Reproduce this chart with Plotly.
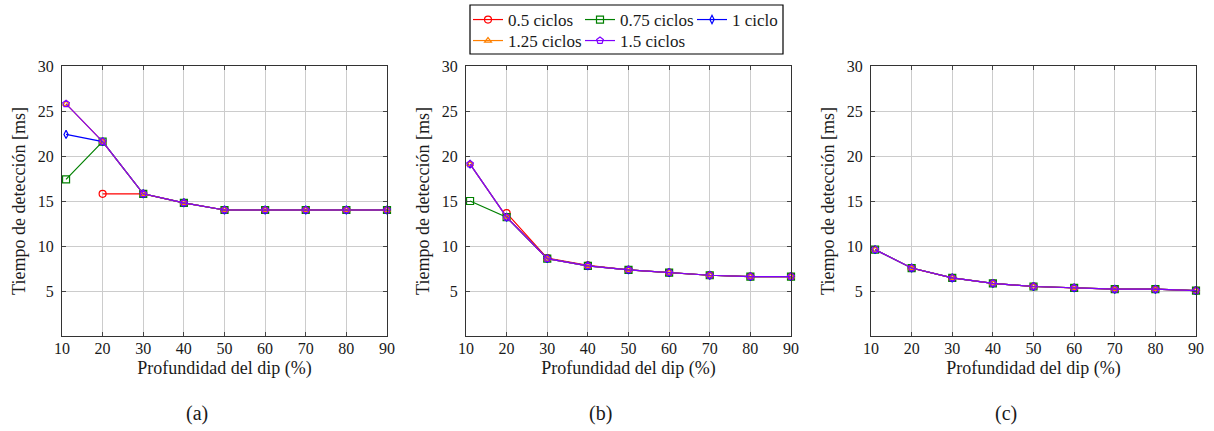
import plotly.graph_objects as go

W, H = 1214, 431

# ---------------- data ----------------
dip = [11, 20, 30, 40, 50, 60, 70, 80, 90]
series_names = ["0.5 ciclos", "0.75 ciclos", "1 ciclo", "1.25 ciclos", "1.5 ciclos"]

# panel (a)
a_05 = [None, 15.8, 15.8, 14.8, 14.0, 14.0, 14.0, 14.0, 14.0]
a_075 = [17.4, 21.6, 15.8, 14.8, 14.0, 14.0, 14.0, 14.0, 14.0]
a_1 = [22.4, 21.6, 15.8, 14.8, 14.0, 14.0, 14.0, 14.0, 14.0]
a_125 = [25.8, 21.6, 15.8, 14.8, 14.0, 14.0, 14.0, 14.0, 14.0]
a_15 = [25.8, 21.6, 15.8, 14.8, 14.0, 14.0, 14.0, 14.0, 14.0]

# panel (b)
b_05 = [None, 13.65, 8.65, 7.85, 7.35, 7.05, 6.75, 6.6, 6.6]
b_075 = [15.0, 13.2, 8.6, 7.8, 7.35, 7.05, 6.75, 6.6, 6.6]
b_1 = [19.1, 13.2, 8.6, 7.8, 7.35, 7.05, 6.75, 6.6, 6.6]
b_125 = [19.1, 13.2, 8.6, 7.8, 7.35, 7.05, 6.75, 6.6, 6.6]
b_15 = [19.1, 13.2, 8.6, 7.8, 7.35, 7.05, 6.75, 6.6, 6.6]

# panel (c)
c_05 = [None, 7.55, 6.45, 5.85, 5.5, 5.35, 5.2, 5.2, 5.05]
c_075 = [9.6, 7.55, 6.45, 5.85, 5.5, 5.35, 5.2, 5.2, 5.05]
c_1 = [9.6, 7.55, 6.45, 5.85, 5.5, 5.35, 5.2, 5.2, 5.05]
c_125 = [9.6, 7.55, 6.45, 5.85, 5.5, 5.35, 5.2, 5.2, 5.05]
c_15 = [9.6, 7.55, 6.45, 5.85, 5.5, 5.35, 5.2, 5.2, 5.05]

x_ticks = [10, 20, 30, 40, 50, 60, 70, 80, 90]
y_ticks = [5, 10, 15, 20, 25, 30]
x_title = "Profundidad del dip (%)"
y_title = "Tiempo de detección [ms]"
sub_labels = ["(a)", "(b)", "(c)"]

# ---------------- styles ----------------
FONT = "'Liberation Serif', 'DejaVu Serif', serif"
TXT = "#1a1a1a"
colors = ["#ff0000", "#008000", "#0000ff", "#ff8000", "#8000ff"]
symbols = ["circle-open", "square-open", "diamond-tall-open", "triangle-up-open", "pentagon-open"]
msizes = [7, 7, 6, 6, 7]
legend_of = ["legend", "legend", "legend", "legend2", "legend2"]

panels = [
    [a_05, a_075, a_1, a_125, a_15],
    [b_05, b_075, b_1, b_125, b_15],
    [c_05, c_075, c_1, c_125, c_15],
]

# pixel boxes of the plot areas
px_x = [(62, 387), (466, 791), (871, 1196)]
px_y = (66, 336)

fig = go.Figure()

for p, data in enumerate(panels):
    ax = "" if p == 0 else str(p + 1)
    for k, ys in enumerate(data):
        fig.add_trace(go.Scatter(
            x=dip, y=ys, name=series_names[k],
            mode="lines+markers",
            line=dict(color=colors[k], width=1.2),
            marker=dict(symbol=symbols[k], size=msizes[k], color=colors[k],
                        line=dict(width=1.2, color=colors[k])),
            cliponaxis=False,
            showlegend=(p == 0),
            legend=legend_of[k],
            xaxis="x" + ax, yaxis="y" + ax,
        ))

axis_common = dict(
    showline=True, linecolor="#333333", linewidth=1.3, mirror="allticks",
    ticks="inside", ticklen=4, tickwidth=1, tickcolor="#444444",
    showgrid=True, gridcolor="#cccccc", gridwidth=1,
    zeroline=False,
    tickfont=dict(family=FONT, size=16, color=TXT),
)

layout_axes = {}
for p in range(3):
    ax = "" if p == 0 else str(p + 1)
    x0, x1 = px_x[p]
    layout_axes["xaxis" + ax] = dict(
        axis_common,
        domain=[x0 / W, x1 / W],
        range=[10, 90], tickvals=x_ticks,
        anchor="y" + ax,
        ticklabelstandoff=-2,
        title=dict(text=x_title, font=dict(family=FONT, size=18, color=TXT), standoff=5),
    )
    layout_axes["yaxis" + ax] = dict(
        axis_common,
        domain=[1 - px_y[1] / H, 1 - px_y[0] / H],
        range=[0, 30], tickvals=y_ticks,
        anchor="x" + ax,
        ticklabelstandoff=4,
        title=dict(text=y_title, font=dict(family=FONT, size=18, color=TXT), standoff=7),
    )

annotations = []
for p, cx in enumerate([197, 600, 1006]):
    annotations.append(dict(
        text=sub_labels[p], x=cx / W, y=1 - 413 / H, xref="paper", yref="paper",
        showarrow=False, xanchor="center", yanchor="middle",
        font=dict(family=FONT, size=20, color=TXT),
    ))

legend_common = dict(
    orientation="h", xref="container", yref="container",
    xanchor="left", yanchor="top",
    bgcolor="rgba(0,0,0,0)", borderwidth=0,
    font=dict(family=FONT, size=17, color=TXT),
    entrywidth=67, entrywidthmode="pixels",
    tracegroupgap=0,
)

fig.update_layout(
    width=W, height=H,
    margin=dict(l=0, r=0, t=0, b=0, autoexpand=False),
    paper_bgcolor="white", plot_bgcolor="white",
    font=dict(family=FONT, size=16, color=TXT),
    legend=dict(legend_common, x=468 / W, y=1 - 2 / H),
    legend2=dict(legend_common, x=468 / W, y=1 - 23 / H),
    annotations=annotations,
    shapes=[dict(type="rect", xref="paper", yref="paper",
                 x0=470 / W, x1=783 / W, y0=1 - 54 / H, y1=1 - 5 / H,
                 line=dict(color="black", width=1.2), fillcolor="rgba(0,0,0,0)")],
    **layout_axes,
)

fig.write_html("out.html")
